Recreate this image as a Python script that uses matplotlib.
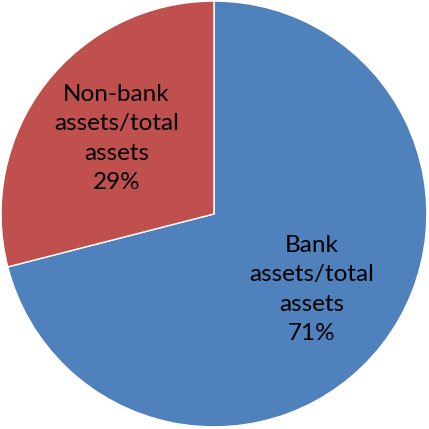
import matplotlib.pyplot as plt

labels = ['Bank\nassets/total\nassets', 'Non-bank\nassets/total\nassets']
shares = [71, 29]
colors = ['#4F81BD', '#C0504D']

fig = plt.figure(figsize=(4.29, 4.29), dpi=100)
ax = fig.add_axes([0, 0, 1, 1])

wedges, texts = ax.pie(
    shares,
    labels=[f'{l}\n{v}%' for l, v in zip(labels, shares)],
    colors=colors,
    startangle=90,
    counterclock=False,
    labeldistance=0.58,
    radius=1.0,
    wedgeprops=dict(edgecolor='white', linewidth=1.0),
    textprops=dict(family='Lato', fontsize=17.5, color='black', linespacing=1.5),
)
for t in texts:
    t.set_ha('center')
    t.set_va('center')

ax.set_xlim(-1.005, 1.01)
ax.set_ylim(-1.01, 1.005)
ax.set_aspect('equal')
ax.axis('off')

fig.savefig('out.png', dpi=100)
